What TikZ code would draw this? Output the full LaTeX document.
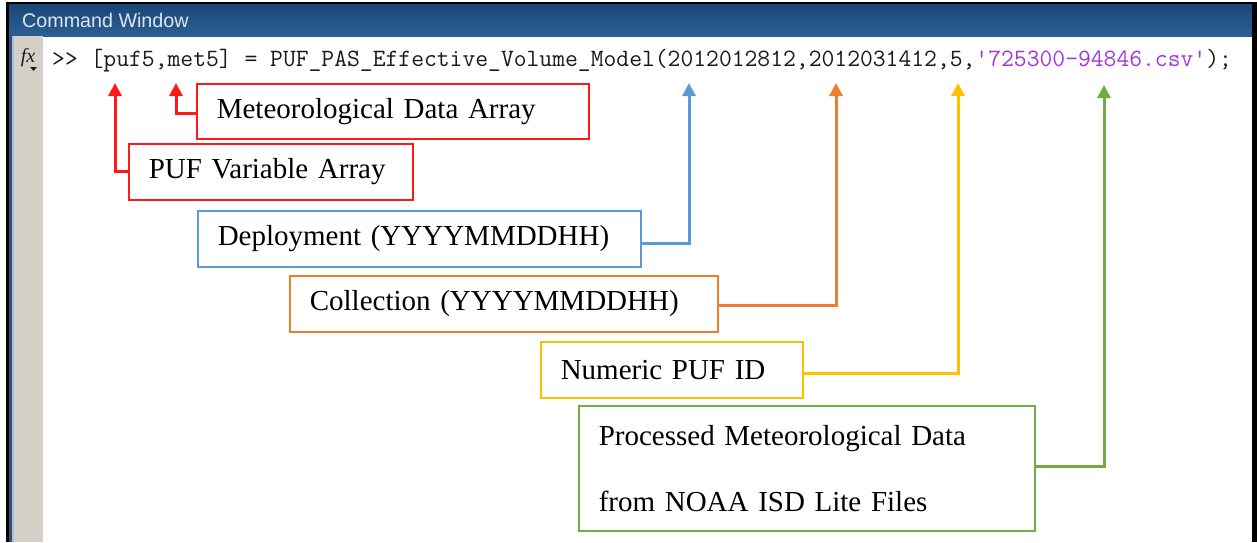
\documentclass[tikz,border=0pt]{standalone}
\usepackage{fontspec}
\setmainfont{Liberation Serif}
\newfontfamily\uifont{Liberation Sans}
\usetikzlibrary{arrows.meta}
\definecolor{cred}{HTML}{FF1A1A}
\definecolor{cblue}{HTML}{5B9BD5}
\definecolor{corange}{HTML}{ED7D31}
\definecolor{cyellow}{HTML}{FFC000}
\definecolor{cgreen}{HTML}{70AD47}
\definecolor{bartop}{HTML}{1B4676}
\definecolor{barbot}{HTML}{2D5F93}
\definecolor{bartext}{HTML}{DCE6F0}
\definecolor{gutter}{HTML}{D4D0C8}
\definecolor{slate}{HTML}{34506C}
\definecolor{paleblue}{HTML}{A8C0D8}
\definecolor{codegray}{HTML}{1A1A1A}
\definecolor{strpurple}{HTML}{A436E0}
\begin{document}
\begin{tikzpicture}[x=1pt,y=-1pt,
  lbl/.style={draw, line width=1.6pt, anchor=north west, inner xsep=20pt, inner ysep=0pt,
    font=\fontsize{29}{66}\selectfont, align=left, text=black},
  conn/.style={line width=3pt, -{Triangle[width=13pt,length=13pt]}}
]
\useasboundingbox (0,0) rectangle (1257,542);
% window frame
\fill[white] (0,0) rectangle (1257,542);
\fill[top color=bartop, bottom color=barbot] (9,4) rectangle (1252,36);
\fill[black] (6,2) rectangle (1257,4);
\fill[black] (6,2) rectangle (9,542);
\fill[black] (1252,2) rectangle (1257,542);
\fill[slate] (9,36) rectangle (12,542);
\fill[paleblue] (12,36) rectangle (13.5,542);
\fill[gutter] (13.5,36) rectangle (43,542);
\node[anchor=west, inner sep=0, font=\uifont\fontsize{19.7}{21}\selectfont, text=bartext] (title) at (22,20) {Command Window};
% fx icon
\node[inner sep=0, font=\itshape\fontsize{20}{22}\selectfont, text=codegray] (fx) at (28,58) {fx};
\fill[codegray] (30,67) -- (37,67) -- (33.5,71) -- cycle;
% code line
\node[anchor=base west, inner sep=0, font=\ttfamily\fontsize{24.9}{26}\selectfont, text=codegray] (code) at (52,66)
  {>> [puf5,met5] = PUF\_PAS\_Effective\_Volume\_Model(2012012812,2012031412,5,\textcolor{strpurple}{'725300-94846.csv'});};
% arrow targets
\coordinate (t1) at (115,83);
\coordinate (t2) at (176,83);
\coordinate (t3) at (689,83);
\coordinate (t4) at (836,83);
\coordinate (t5) at (958,83);
\coordinate (t6) at (1104,85);
% label boxes
\node[lbl, draw=cred, text width=352pt, minimum height=55pt] (met) at (196,83) {Meteorological Data Array};
\node[lbl, draw=cred, text width=244pt, minimum height=56pt] (puf) at (128,143) {PUF Variable Array};
\node[lbl, draw=cblue, text width=403pt, minimum height=56pt] (dep) at (197,210) {Deployment (YYYYMMDDHH)};
\node[lbl, draw=corange, text width=388pt, minimum height=56pt] (col) at (289,275) {Collection (YYYYMMDDHH)};
\node[lbl, draw=cyellow, text width=222pt, minimum height=56pt] (num) at (540,341) {Numeric PUF ID};
\node[lbl, draw=cgreen, text width=416pt, minimum height=125pt] (proc) at (578,405) {Processed Meteorological Data\\from NOAA ISD Lite Files};
% connectors
\draw[conn, cred] ([yshift=-2.5pt]met.west) -| (t2);
\draw[conn, cred] (puf.west) -| (t1);
\draw[conn, cblue] ([yshift=-5pt]dep.east) -| (t3);
\draw[conn, corange] ([yshift=-2pt]col.east) -| (t4);
\draw[conn, cyellow] ([yshift=-4pt]num.east) -| (t5);
\draw[conn, cgreen] ([yshift=1.5pt]proc.east) -| (t6);
\end{tikzpicture}
\end{document}
